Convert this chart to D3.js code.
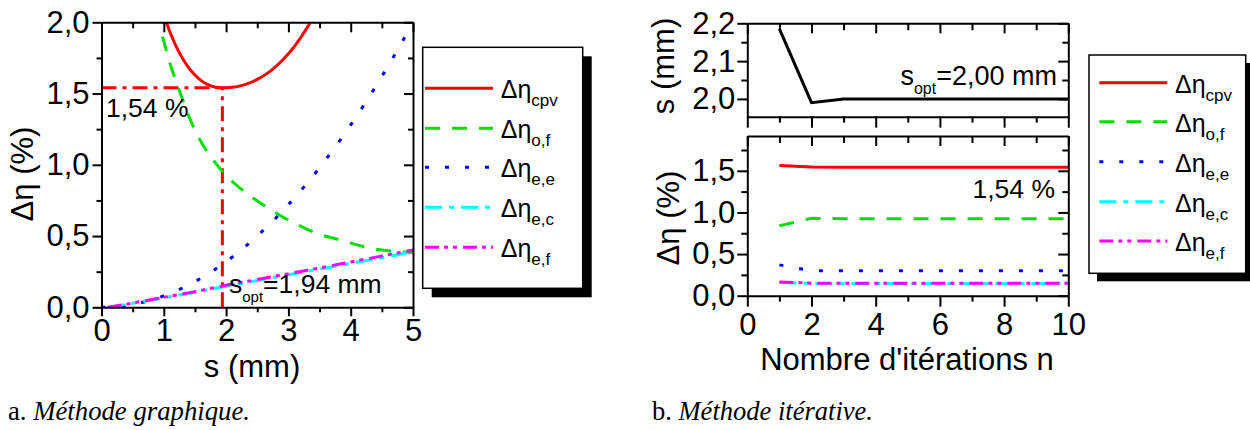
<!DOCTYPE html>
<html><head><meta charset="utf-8">
<script src="https://cdn.jsdelivr.net/npm/d3@7"></script>
<style>
html,body{margin:0;padding:0;background:#fff;}
svg{display:block;}
</style></head>
<body>
<script>
// ---------- DATA ----------
// (a) graphical method : Δη vs s (mm)
const sCpv   = [1.04,1.1,1.2,1.3,1.4,1.5,1.6,1.7,1.8,1.94,2.1,2.3,2.5,2.7,2.9,3.1,3.3,3.34];
const etaCpv = [2.0,1.93,1.83,1.748,1.681,1.63,1.591,1.564,1.548,1.54,1.544,1.563,1.599,1.654,1.732,1.833,1.962,1.991];
const sOf    = [0.98,1.1,1.2,1.3,1.45,1.6,1.75,1.95,2.14,2.3,2.49,2.7,2.91,3.1,3.34,3.55,3.77,4.0,4.23,4.45,4.68,5.0];
const etaOf  = [1.90,1.71,1.58,1.46,1.29,1.16,1.06,0.948,0.867,0.81,0.75,0.69,0.634,0.59,0.54,0.505,0.48,0.45,0.424,0.405,0.394,0.385];
const sEe    = [0,0.25,0.5,0.75,1,1.25,1.5,1.75,2,2.25,2.5,2.75,3,3.25,3.5,3.75,4,4.25,4.5,4.75,5];
const etaEe  = [0,0.005,0.02,0.045,0.08,0.125,0.18,0.245,0.32,0.405,0.5,0.605,0.72,0.845,0.98,1.125,1.28,1.445,1.62,1.805,2.0];
const sEcf   = [0.1,0.5,1,1.5,2,2.5,3,3.5,4,4.5,5];
const etaEc  = [0,0.028,0.066,0.106,0.148,0.188,0.228,0.268,0.308,0.348,0.39];
const etaEf  = [0,0.03,0.07,0.11,0.155,0.195,0.236,0.276,0.318,0.36,0.402];
const sOpt = 1.94, etaOpt = 1.54;

// (b) iterative method : vs iteration number n
const nIter    = [1,2,3,4,5,6,7,8,9,10];
const sIter    = [2.185,1.99,2.0,2.0,2.0,2.0,2.0,2.0,2.0,2.0];
const cpvIter  = [1.565,1.545,1.543,1.543,1.543,1.543,1.543,1.543,1.543,1.543];
const ofIter   = [0.84,0.93,0.925,0.925,0.925,0.925,0.925,0.925,0.925,0.925];
const eeIter   = [0.37,0.30,0.30,0.30,0.30,0.30,0.30,0.30,0.30,0.30];
const ecIter   = [0.16,0.148,0.148,0.148,0.148,0.148,0.148,0.148,0.148,0.148];
const efIter   = [0.165,0.15,0.15,0.15,0.15,0.15,0.15,0.15,0.15,0.15];

// ticks
const xTicksA = [0,1,2,3,4,5], xMinorA = [0.5,1.5,2.5,3.5,4.5];
const yTicksA = [0,0.5,1.0,1.5,2.0], yMinorA = [0.25,0.75,1.25,1.75];
const xTicksB = [0,2,4,6,8,10], xMinorB = [1,3,5,7,9];
const yTicksBs = [2.0,2.1,2.2], yMinorBs = [2.05,2.15];
const yTicksBe = [0,0.5,1.0,1.5], yMinorBe = [0.25,0.75,1.25,1.75];

const seriesNames = ["cpv","o,f","e,e","e,c","e,f"];
const seriesColors = ["#ff0000","#00e000","#0000ff","#00ffff","#ff00ff"];
const seriesDash = [null,"15,12","4,16","17,7,5,7","14,5,4,5,4,6"];

// ---------- DRAW ----------
const W = 1250, H = 430;
const FONT = "'Liberation Sans', Arial, Helvetica, sans-serif";
const svg = d3.select("body").append("svg").attr("width", W).attr("height", H)
  .style("font-family", FONT);
svg.append("rect").attr("width", W).attr("height", H).attr("fill", "#fff");

const fmt = d => d3.format(".1f")(d).replace(".", ",");
const fmtInt = d => String(d);

function styleAxis(g, fs) {
  g.selectAll("path.domain").attr("stroke", "#000").attr("stroke-width", 2);
  g.selectAll(".tick line").attr("stroke", "#000").attr("stroke-width", 2);
  g.selectAll(".tick text").attr("font-size", fs).attr("font-family", FONT).attr("fill", "#000");
  g.attr("font-size", null).attr("font-family", null);
}
function drawAxis(parent, gen, scale, tr, major, minor, maj, min, pad, labelFmt) {
  const g = parent.append("g").attr("transform", tr);
  g.call(gen(scale).tickValues(minor).tickSize(min).tickSizeOuter(0).tickFormat(""));
  g.select("path.domain").remove();
  const g2 = parent.append("g").attr("transform", tr);
  g2.call(gen(scale).tickValues(major).tickSize(maj).tickSizeOuter(0).tickPadding(pad)
    .tickFormat(labelFmt ? labelFmt : ""));
  styleAxis(g, 31); styleAxis(g2, 31);
  return g2;
}

// ===== Panel (a) =====
const xA = d3.scaleLinear().domain([0,5]).range([101.5,413]);
const yA = d3.scaleLinear().domain([0,2]).range([307.3,22.3]);

svg.append("clipPath").attr("id","clipA").append("rect")
  .attr("x", xA(0)).attr("y", yA(2)-2).attr("width", xA(5)-xA(0)).attr("height", yA(0)-yA(2)+2);

const gA = svg.append("g");
const lineA = d3.line().x(d => xA(d[0])).y(d => yA(d[1])).curve(d3.curveMonotoneX);
const zip = (a,b) => a.map((v,i) => [v,b[i]]);

const plotA = gA.append("g").attr("clip-path","url(#clipA)");
// guide lines
plotA.append("path").attr("d", d3.line()([[xA(0), yA(etaOpt)],[xA(sOpt), yA(etaOpt)]]))
  .attr("stroke","#ff0000").attr("stroke-width",3).attr("stroke-dasharray","15,6,4,6").attr("fill","none");
plotA.append("path").attr("d", d3.line()([[xA(sOpt), yA(0)],[xA(sOpt), yA(etaOpt)]]))
  .attr("stroke","#ff0000").attr("stroke-width",3).attr("stroke-dasharray","15,6,4,6").attr("fill","none");

const curvesA = [
  [sCpv, etaCpv, 0], [sOf, etaOf, 1], [sEe, etaEe, 2], [sEcf, etaEc, 3], [sEcf, etaEf, 4]
];
curvesA.forEach(([xs, ys, k]) => {
  plotA.append("path").attr("d", lineA(zip(xs, ys)))
    .attr("fill","none").attr("stroke", seriesColors[k]).attr("stroke-width", 3)
    .attr("stroke-dasharray", seriesDash[k]);
});

// axes (a)
drawAxis(gA, d3.axisBottom, xA, `translate(0,${yA(0)})`, xTicksA, xMinorA, 9, 5, 3, fmtInt);
drawAxis(gA, d3.axisLeft, yA, `translate(${xA(0)},0)`, yTicksA, yMinorA, 9, 5, 3, fmt);
drawAxis(gA, d3.axisTop, xA, `translate(0,${yA(2)})`, xTicksA, xMinorA, -10, -6, 3, null);
drawAxis(gA, d3.axisRight, yA, `translate(${xA(5)},0)`, yTicksA, yMinorA, -9, -5, 3, null);

// titles (a)
gA.append("text").attr("x", 252).attr("y", 377).attr("text-anchor","middle")
  .attr("font-size", 31).text("s (mm)");
gA.append("text").attr("transform","translate(33,174) rotate(-90)").attr("text-anchor","middle")
  .attr("font-size", 31).text("Δη (%)");

// annotations (a)
gA.append("text").attr("x", 106).attr("y", 117).attr("font-size", 26.5).text("1,54 %");
const tA = gA.append("text").attr("x", 229).attr("y", 293).attr("font-size", 26.5);
tA.append("tspan").text("s");
tA.append("tspan").attr("font-size", 15).attr("dy", 8.5).text("opt");
tA.append("tspan").attr("dy", -8.5).text("=1,94 mm");

// ===== Panel (b) =====
const xB = d3.scaleLinear().domain([0,10]).range([747.3,1068.3]);
const yBs = d3.scaleLinear().domain([1.953,2.2]).range([116.7,23.3]);
const yBe = d3.scaleLinear().domain([0,1.918]).range([295.7,136]);
const gB = svg.append("g");
const lineLin = (ys, sc) => d3.line().x(d => xB(d[0])).y(d => sc(d[1]))(zip(nIter, ys));

// top panel
gB.append("path").attr("d", lineLin(sIter, yBs)).attr("fill","none").attr("stroke","#000").attr("stroke-width",3);
drawAxis(gB, d3.axisBottom, xB, `translate(0,${yBs.range()[0]})`, xTicksB, xMinorB, 11, 6, 3, null);
drawAxis(gB, d3.axisLeft, yBs, `translate(${xB(0)},0)`, yTicksBs, yMinorBs, 10, 6, 2, fmt);
drawAxis(gB, d3.axisTop, xB, `translate(0,${yBs.range()[1]})`, xTicksB, xMinorB, -10, -7, 3, null);
drawAxis(gB, d3.axisRight, yBs, `translate(${xB(10)},0)`, yTicksBs, yMinorBs, -10, -6, 3, null);

// bottom panel
const itSeries = [cpvIter, ofIter, eeIter, ecIter, efIter];
[0,1,2,3,4].forEach(k => {
  gB.append("path").attr("d", lineLin(itSeries[k], yBe)).attr("fill","none")
    .attr("stroke", seriesColors[k]).attr("stroke-width", 3).attr("stroke-dasharray", seriesDash[k]);
});
drawAxis(gB, d3.axisBottom, xB, `translate(0,${yBe.range()[0]})`, xTicksB, xMinorB, 11, 6, 6, fmtInt);
drawAxis(gB, d3.axisLeft, yBe, `translate(${xB(0)},0)`, yTicksBe, yMinorBe, 10, 6, 2, fmt);
drawAxis(gB, d3.axisTop, xB, `translate(0,${yBe.range()[1]})`, xTicksB, xMinorB, -10, -7, 3, null);
drawAxis(gB, d3.axisRight, yBe, `translate(${xB(10)},0)`, yTicksBe, yMinorBe, -10, -6, 3, null);

// titles (b)
gB.append("text").attr("x", 907).attr("y", 370).attr("text-anchor","middle")
  .attr("font-size", 31).text("Nombre d'itérations n");
gB.append("text").attr("transform","translate(674,66) rotate(-90)").attr("text-anchor","middle")
  .attr("font-size", 31).text("s (mm)");
gB.append("text").attr("transform","translate(679,218) rotate(-90)").attr("text-anchor","middle")
  .attr("font-size", 31).text("Δη (%)");

// annotations (b)
const tB = gB.append("text").attr("x", 1057).attr("y", 85).attr("font-size", 27).attr("text-anchor","end");
tB.append("tspan").text("s");
tB.append("tspan").attr("font-size", 16).attr("dy", 8.5).text("opt");
tB.append("tspan").attr("dy", -8.5).text("=2,00 mm");
gB.append("text").attr("x", 1055).attr("y", 198).attr("font-size", 26.5).attr("text-anchor","end").text("1,54 %");

// ===== Legends =====
function legend(x, y, w, h, sh, ys, lx0, lx1, tx) {
  const g = svg.append("g");
  g.append("rect").attr("x", x+sh).attr("y", y+sh).attr("width", w).attr("height", h).attr("fill","#000");
  g.append("rect").attr("x", x).attr("y", y).attr("width", w).attr("height", h)
    .attr("fill","#fff").attr("stroke","#000").attr("stroke-width",1.5);
  seriesNames.forEach((nm, k) => {
    g.append("line").attr("x1", lx0).attr("x2", lx1).attr("y1", ys[k]).attr("y2", ys[k])
      .attr("stroke", seriesColors[k]).attr("stroke-width", 3).attr("stroke-dasharray", seriesDash[k]);
    const t = g.append("text").attr("x", tx).attr("y", ys[k] + 10).attr("font-size", 25);
    t.append("tspan").text("Δη");
    t.append("tspan").attr("font-size", 17).attr("dy", 8).text(nm);
  });
}
legend(422.7, 47.3, 160, 241, 9, [88.3,128.3,167.3,207.3,247.3], 425, 493, 500.7);
legend(1089, 55, 156.7, 218.3, 8, [82.7,121.7,161.7,201.7,241], 1099.3, 1167.3, 1175);

// ===== Captions =====
const SERIF = "'Liberation Serif', 'Times New Roman', serif";
function caption(x, lab, txt, len) {
  const t = svg.append("text").attr("x", x).attr("y", 420).attr("font-family", SERIF)
    .attr("font-size", 27).attr("textLength", len).attr("lengthAdjust","spacingAndGlyphs");
  t.append("tspan").text(lab + " ");
  t.append("tspan").attr("font-style","italic").text(txt);
}
caption(8, "a.", "Méthode graphique.", 242);
caption(652, "b.", "Méthode itérative.", 221);
</script>
</body></html>
